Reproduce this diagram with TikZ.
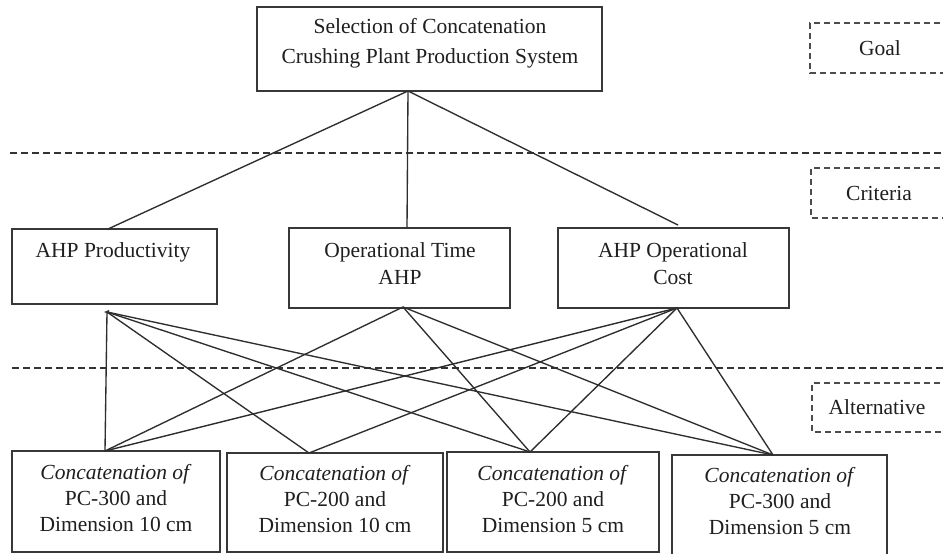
\documentclass[tikz,border=0pt]{standalone}
\usepackage{fontspec}
\setmainfont{Liberation Serif}
\begin{document}
\begin{tikzpicture}[x=1pt,y=-1pt,
  box/.style={draw=black!78,line width=1.5pt,rectangle,inner sep=0pt},
  lbl/.style={text=black!88,align=center,inner sep=0pt,font=\fontsize{21.5}{26}\selectfont},
  dbox/.style={draw=black!70,line width=1.4pt,dash pattern=on 6pt off 4pt},
  dline/.style={draw=black!80,line width=1.4pt,dash pattern=on 7pt off 4pt},
  conn/.style={draw=black!82,line width=1.35pt}]
\clip (0,0) rectangle (943,554);
\fill[white] (0,0) rectangle (943,554);
% goal
\node[box,minimum width=345pt,minimum height=84pt] (goal) at (429.5,49) {};
\node[lbl,font=\fontsize{21.5}{30}\selectfont] (goalt) at (430,43) {Selection of Concatenation\\Crushing Plant Production System};
% level labels
\draw[dbox] (950,23) -- (810,23) -- (810,73) -- (950,73);
\node[lbl] (goallbl) at (880,48) {Goal};
\draw[dline] (10,153) -- (943,153);
\draw[dbox] (950,168) -- (811,168) -- (811,218) -- (950,218);
\node[lbl] (critlbl) at (879,193) {Criteria};
\draw[dline] (12,368) -- (943,368);
\draw[dbox] (950,383) -- (812,383) -- (812,432) -- (950,432);
\node[lbl] (altlbl) at (877,407) {Alternative};
% criteria
\node[box,minimum width=205pt,minimum height=75pt] (c1) at (114.5,266.5) {};
\node[lbl] (c1t) at (113,252) {AHP Productivity};
\node[box,minimum width=221pt,minimum height=80pt] (c2) at (399.5,268) {};
\node[lbl,font=\fontsize{21.5}{27}\selectfont] (c2t) at (400,263.5) {Operational Time\\AHP};
\node[box,minimum width=231pt,minimum height=80pt] (c3) at (673.5,268) {};
\node[lbl,font=\fontsize{21.5}{27}\selectfont] (c3t) at (673,263.5) {AHP Operational\\Cost};
% alternatives
\node[box,minimum width=208pt,minimum height=101pt] (a1) at (116,501.5) {};
\node[lbl] (a1t) at (116,498) {\textit{Concatenation of}\\PC-300 and\\Dimension 10 cm};
\node[box,minimum width=216pt,minimum height=99pt] (a2) at (335,502.5) {};
\node[lbl] (a2t) at (335,499) {\textit{Concatenation of}\\PC-200 and\\Dimension 10 cm};
\node[box,minimum width=212pt,minimum height=100pt] (a3) at (553,502) {};
\node[lbl] (a3t) at (553,499.5) {\textit{Concatenation of}\\PC-200 and\\Dimension 5 cm};
\node[box,minimum width=215pt,minimum height=110pt] (a4) at (779.5,510) {};
\node[lbl] (a4t) at (780,501) {\textit{Concatenation of}\\PC-300 and\\Dimension 5 cm};
% connection points
\coordinate (G) at (408,91);
\coordinate (C1) at (108,229);
\coordinate (C2) at (407,228);
\coordinate (C3) at (678,225);
\coordinate (P1) at (107,312);
\coordinate (P2) at (403,307);
\coordinate (P3) at (677,308);
\coordinate (A1) at (105,451);
\coordinate (A2) at (309,453);
\coordinate (A3) at (530,452);
\coordinate (A4) at (773,455);
\draw[conn] (G) -- (C1);
\draw[conn] (G) -- (C2);
\draw[conn] (G) -- (C3);
\draw[conn] (P1) -- (A1);
\draw[conn] (P1) -- (A2);
\draw[conn] (P1) -- (A3);
\draw[conn] (P1) -- (A4);
\draw[conn] (P2) -- (A1);
\draw[conn] (P2) -- (A3);
\draw[conn] (P2) -- (A4);
\draw[conn] (P3) -- (A1);
\draw[conn] (P3) -- (A2);
\draw[conn] (P3) -- (A3);
\draw[conn] (P3) -- (A4);
\fill[black!80] (P1) ++(-3,0) -- ++(5,-2) -- ++(0,4) -- cycle;
\end{tikzpicture}
\end{document}
